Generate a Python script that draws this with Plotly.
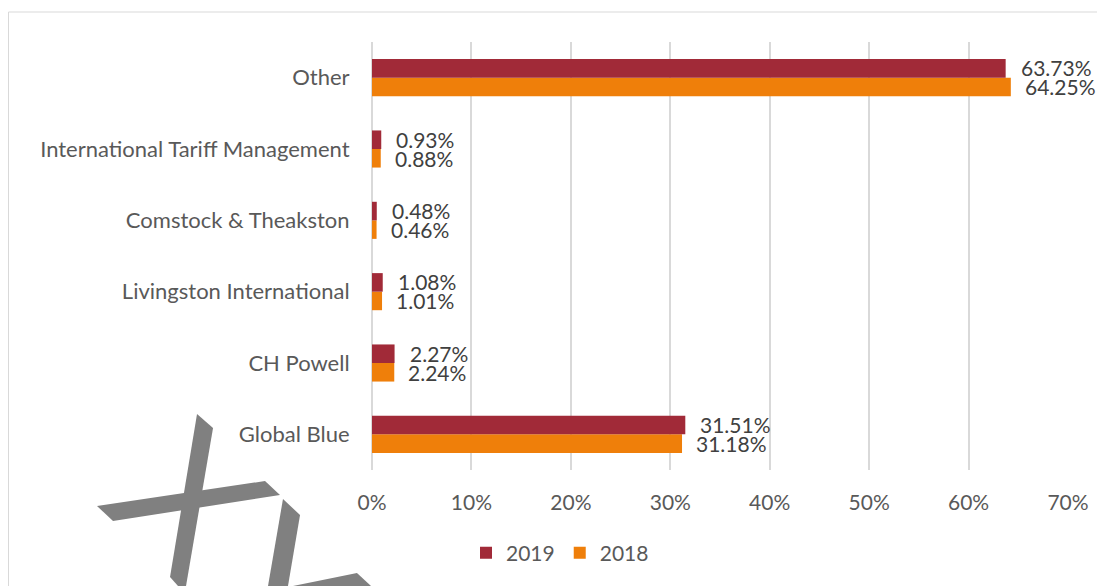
import plotly.graph_objects as go

categories = ["Global Blue", "CH Powell", "Livingston International",
              "Comstock & Theakston", "International Tariff Management", "Other"]
values_2019 = [31.51, 2.27, 1.08, 0.48, 0.93, 63.73]
values_2018 = [31.18, 2.24, 1.01, 0.46, 0.88, 64.25]
tick_vals = [0, 10, 20, 30, 40, 50, 60, 70]
tick_text = ["0%", "10%", "20%", "30%", "40%", "50%", "60%", "70%"]

C2019 = "#A12A38"
C2018 = "#EF7F0A"
FONT = "Lato, 'Open Sans', sans-serif"

# page has an 8px body margin; figure size/margins compensate for it
OFF = 8
W, H = 1105 - OFF, 586 - OFF
PL, PT, PR, PB = 372, 42, 1068, 470          # plot area in page pixels
L, T = PL - OFF, PT - OFF
R, B = W - (PR - OFF), H - (PB - OFF)
PW, PH = PR - PL, PB - PT

fig = go.Figure()
fig.add_trace(go.Bar(y=categories, x=values_2018, orientation="h", name="2018",
                     marker=dict(color=C2018, line=dict(width=0))))
fig.add_trace(go.Bar(y=categories, x=values_2019, orientation="h", name="2019",
                     marker=dict(color=C2019, line=dict(width=0))))

ann = []
for c, v in zip(categories, values_2019):
    ann.append(dict(x=v, y=c, xref="x", yref="y", text=f"{v:.2f}%", showarrow=False,
                    xanchor="left", yanchor="middle", xshift=13, yshift=10,
                    font=dict(family=FONT, size=21, color="#404040")))
for c, v in zip(categories, values_2018):
    ann.append(dict(x=v, y=c, xref="x", yref="y", text=f"{v:.2f}%", showarrow=False,
                    xanchor="left", yanchor="middle", xshift=12, yshift=-9,
                    font=dict(family=FONT, size=21, color="#404040")))


def px2paper(pts):
    # page pixel coordinates -> paper coordinates
    return [((x - PL) / PW, (PB - y) / PH) for x, y in pts]


def path(pts):
    p = px2paper(pts)
    return "M " + " L ".join(f"{a:.4f},{b:.4f}" for a, b in p) + " Z"


watermark = [
    [(197, 414), (213, 428), (186, 586), (178, 586), (170, 577)],
    [(97, 506), (265, 481), (280, 495), (113, 521)],
    [(283, 499), (300, 515), (288, 586), (268, 586)],
    [(293, 586), (357, 573), (371, 586)],
]
shapes = [dict(type="path", path=path(p), xref="paper", yref="paper",
               fillcolor="#808080", line=dict(width=0), layer="above") for p in watermark]

# chart frame
fx0, fy0 = px2paper([(OFF + 0.5, 12)])[0]
shapes.append(dict(type="rect", xref="paper", yref="paper", x0=fx0, y0=fy0, x1=1.2, y1=-0.5,
                   line=dict(color="#D9D9D9", width=1), fillcolor="rgba(0,0,0,0)", layer="below"))

fig.update_layout(
    width=W, height=H,
    margin=dict(l=L, r=R, t=T, b=B, pad=0),
    paper_bgcolor="white", plot_bgcolor="white",
    barmode="group", bargap=0.48, bargroupgap=0,
    font=dict(family=FONT, size=21, color="#595959"),
    showlegend=True,
    legend=dict(orientation="h", traceorder="reversed", x=(466 - PL) / PW, xanchor="left",
                y=(PB - 553) / PH, yanchor="middle", font=dict(size=21, color="#595959"),
                itemwidth=30, itemsizing="constant", bgcolor="rgba(0,0,0,0)"),
    xaxis=dict(range=[0, 70], tickvals=tick_vals, ticktext=tick_text,
               showgrid=True, gridcolor="#D9D9D9", gridwidth=1.5,
               zeroline=True, zerolinecolor="#D9D9D9", zerolinewidth=1.5,
               showline=False, ticks="outside", ticklen=14, tickcolor="rgba(0,0,0,0)",
               tickfont=dict(size=21, color="#595959"), fixedrange=True),
    yaxis=dict(categoryorder="array", categoryarray=categories,
               showgrid=False, showline=False, ticks="outside", ticklen=17,
               tickcolor="rgba(0,0,0,0)", tickfont=dict(size=22, color="#595959")),
    annotations=ann,
    shapes=shapes,
)

fig.write_html("out.html")
